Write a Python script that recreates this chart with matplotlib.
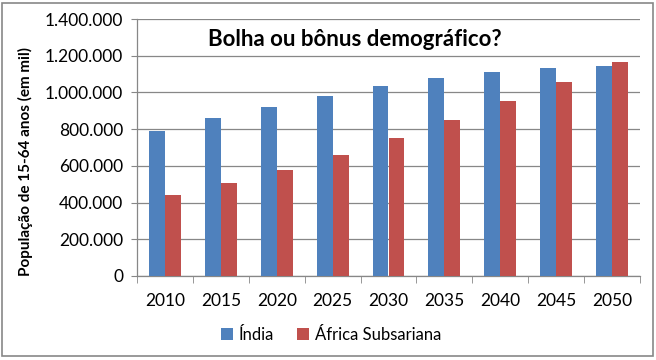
import matplotlib
matplotlib.use("Agg")
import matplotlib.pyplot as plt
from matplotlib.ticker import FuncFormatter, FixedLocator
from matplotlib.patches import Rectangle

years = ["2010", "2015", "2020", "2025", "2030", "2035", "2040", "2045", "2050"]
india = [790000, 862000, 921000, 981000, 1035000, 1079000, 1111000, 1133000, 1144000]
africa = [441000, 507000, 577000, 659000, 752000, 850000, 953000, 1057000, 1166000]
series_names = ["Índia", "África Subsariana"]
title = "Bolha ou bônus demográfico?"
ylabel = "População de 15-64 anos (em mil)"

FONT = ["Lato", "DejaVu Sans"]
plt.rcParams["font.family"] = FONT

fig = plt.figure(figsize=(6.56, 3.6), dpi=100)
ax = fig.add_axes([137/656, 1 - 276/360, (640-137)/656, (276-19)/360])

x = list(range(len(years)))
w = 0.286
ax.bar([i - w/2 for i in x], india, width=w, color="#4F81BD", label=series_names[0], zorder=3)
ax.bar([i + w/2 for i in x], africa, width=w, color="#C0504D", label=series_names[1], zorder=3)

ax.set_xlim(-0.5, len(years) - 0.5)
ax.set_ylim(0, 1400000)
ax.yaxis.set_major_locator(FixedLocator(list(range(0, 1400001, 200000))))
ax.yaxis.set_major_formatter(FuncFormatter(lambda v, p: f"{int(v):,}".replace(",", ".")))
ax.grid(axis="y", color="#878787", linewidth=0.9, zorder=0)

ax.set_xticks(x)
ax.set_xticklabels(years)
ax.set_xticks([i - 0.5 for i in range(len(years) + 1)], minor=True)
ax.tick_params(axis="x", which="major", length=0, pad=12, labelsize=12.5)
ax.tick_params(axis="x", which="minor", length=5, color="#878787", direction="out")
ax.tick_params(axis="y", which="major", length=4, color="#878787", direction="out", labelsize=12.5, pad=6)

for s in ["top", "right"]:
    ax.spines[s].set_visible(False)
for s in ["left", "bottom"]:
    ax.spines[s].set_color("#878787")
    ax.spines[s].set_linewidth(0.9)

ax.set_ylabel(ylabel, fontsize=11, fontweight="bold")
ax.yaxis.set_label_coords((33 - 137) / 503, (276 - 162) / 257)

fig.text(355/656, 1 - 39/360, title, ha="center", va="center", fontsize=16, fontweight="bold")

leg = fig.legend(loc="center", bbox_to_anchor=(331/656, 1 - 335/360), ncol=2, frameon=False,
                 fontsize=12, handlelength=0.7, handleheight=0.7, columnspacing=1.4, handletextpad=0.35)

fig.patches.append(Rectangle((2/656, 4/360), 651/656, 353/360, transform=fig.transFigure,
                             fill=False, edgecolor="#878787", linewidth=1.2))

fig.savefig("out.png", dpi=100)
